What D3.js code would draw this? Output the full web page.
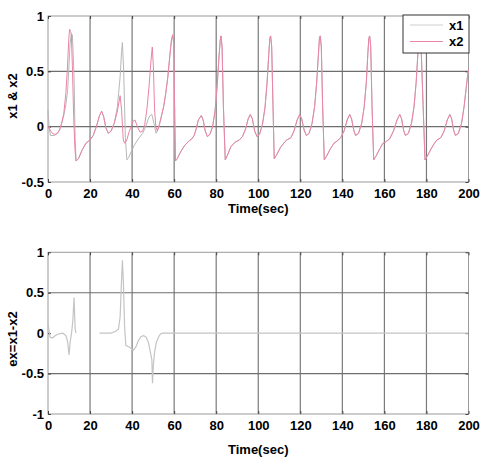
<!DOCTYPE html>
<html>
<head>
<meta charset="utf-8">
<script src="https://cdn.jsdelivr.net/npm/d3@7"></script>
<style>
  body { margin: 0; background: #fff; }
  text { font-family: Arial, "Liberation Sans", sans-serif; font-weight: bold; font-size: 13px; fill: #000; }
</style>
</head>
<body>
<div id="chart-container"></div>
<script>
// Chart size
const svgWidth = 487;
const svgHeight = 465;

// Tick labels
const xTicks = [0, 20, 40, 60, 80, 100, 120, 140, 160, 180, 200];
const topYTicks = [-0.5, 0, 0.5, 1];
const bottomYTicks = [-1, -0.5, 0, 0.5, 1];
const seriesNames = ['x1', 'x2'];

// x2: [time, value]
const x2Data = [
  [0, 0.0], [1, -0.03], [2, -0.06], [3.3, -0.07], [4.5, -0.06], [5.5, -0.03], [6.5, 0.03], [7.5, 0.12],
  [8.5, 0.3], [9.3, 0.55], [9.9, 0.8], [10.3, 0.88], [10.7, 0.86], [11.1, 0.84], [11.6, 0.55], [12.2, 0.1],
  [12.8, -0.2], [13.3, -0.31], [14.5, -0.29], [16, -0.22], [18, -0.15], [20, -0.12], [21.5, -0.08], [23, 0.0],
  [24.5, 0.1], [25.5, 0.14], [26.5, 0.09], [27.5, -0.01], [28.7, -0.06], [30, -0.04], [31.5, 0.03], [33, 0.14],
  [34.3, 0.28], [35.0, 0.15], [35.8, -0.12], [36.5, -0.15], [37.5, -0.12], [38.5, -0.05], [39.5, 0.0], [40.5, 0.05],
  [41.4, 0.06], [42.5, 0.0], [43.8, -0.05], [45, -0.04], [46, 0.02], [47, 0.15], [48, 0.35], [49, 0.6],
  [49.6, 0.72], [50.1, 0.55], [50.7, 0.15], [51.3, 0.0], [52, -0.04], [53, 0.02], [54, 0.1], [55, 0.18],
  [56, 0.3], [57, 0.45], [58, 0.65], [58.7, 0.78], [59.3, 0.83], [59.8, 0.75], [60.2, 0.2], [60.6, -0.31],
  [61.5, -0.29], [63, -0.23], [65, -0.17], [67, -0.13], [68.4, -0.11], [69.5, -0.08], [70.5, -0.02], [71.5, 0.06],
  [72.9, 0.1], [73.8, 0.06], [74.8, -0.04], [75.8, -0.09], [77, -0.07], [78.3, 0.0], [79.5, 0.15], [80.5, 0.38],
  [81.3, 0.62], [81.9, 0.78], [82.3, 0.82], [82.8, 0.72], [83.4, 0.2], [84.3, -0.3],
  [85.3, -0.26], [87, -0.18], [89, -0.14], [91, -0.12], [92.5, -0.09], [94, -0.02], [95.2, 0.07], [96.2, 0.11],
  [97.2, 0.07], [98.3, -0.04], [99.4, -0.09], [100.6, -0.07], [102, 0.02], [103.2, 0.17], [104.2, 0.4], [105, 0.65],
  [105.5, 0.8], [105.9, 0.82], [106.4, 0.72], [107, 0.2], [107.6, -0.29],
  [108.6, -0.26], [110.5, -0.19], [112.5, -0.14], [113.6, -0.12], [115.5, -0.1], [117, -0.04], [118.5, 0.06], [119.7, 0.11],
  [120.7, 0.07], [121.8, -0.03], [122.9, -0.08], [124.2, -0.06], [125.6, 0.03], [126.8, 0.18], [127.8, 0.4], [128.6, 0.65],
  [129.1, 0.8], [129.5, 0.82], [130, 0.72], [130.6, 0.2], [131.4, -0.3],
  [132.4, -0.27], [134.3, -0.2], [136, -0.15], [137.5, -0.13], [139.2, -0.1], [140.8, -0.04], [142.3, 0.06], [143.5, 0.11],
  [144.4, 0.07], [145.4, -0.03], [146.3, -0.08], [147.7, -0.06], [149.2, 0.03], [150.4, 0.18], [151.4, 0.4], [152.1, 0.65],
  [152.6, 0.8], [153, 0.82], [153.5, 0.72], [154.1, 0.2], [154.9, -0.3],
  [155.9, -0.27], [157.8, -0.2], [159.3, -0.15], [160.5, -0.14], [162.5, -0.11], [164.3, -0.04], [166, 0.06], [167.3, 0.11],
  [168.2, 0.07], [169.1, -0.03], [170, -0.08], [171.4, -0.06], [172.9, 0.03], [174.1, 0.18], [175.1, 0.4], [175.9, 0.65],
  [176.4, 0.8], [176.8, 0.83], [177.4, 0.75], [178.4, 0.2], [179.3, -0.3],
  [180.3, -0.27], [182.2, -0.2], [183.8, -0.15], [185, -0.12], [186.8, -0.1], [188.4, -0.04], [189.9, 0.06], [191.1, 0.11],
  [192, 0.07], [192.9, -0.03], [193.8, -0.08], [195.2, -0.06], [196.7, 0.03], [197.9, 0.18], [198.9, 0.35], [199.5, 0.45],
  [200, 0.52]
];

// x1 before it locks onto x2 (after t = 52 it follows x2)
const x1Early = [
  [0, 0.15], [0.6, -0.02], [1.2, -0.08], [3, -0.08], [4.5, -0.06], [5.5, -0.03], [6.5, 0.03], [7.5, 0.1],
  [8.5, 0.2], [9.3, 0.32], [9.9, 0.52], [10.5, 0.75], [11.1, 0.84], [11.6, 0.83], [12.4, 0.45], [12.9, -0.1],
  [13.4, -0.31], [14.5, -0.29], [16, -0.22], [18, -0.15], [20, -0.12], [21.5, -0.08], [23, 0.0], [24.5, 0.1],
  [25.5, 0.14], [26.5, 0.09], [27.5, -0.01], [28.7, -0.06], [30, -0.04], [31.5, 0.03], [33, 0.18], [34.3, 0.45],
  [35, 0.68], [35.4, 0.76], [36, 0.5], [36.8, -0.1], [37.5, -0.3], [38.3, -0.28], [39.5, -0.23], [41, -0.17],
  [43, -0.11], [45, -0.06], [46.5, 0.0], [47.5, 0.06], [48.5, 0.1], [49.4, 0.11], [50.4, 0.03], [51.4, -0.06],
  [52, -0.04]
];
const x1Data = x1Early.concat(x2Data.filter(d => d[0] > 52));

// error ex = x1 - x2 (null = not visible)
const exData = [
  [0, 0.12], [0.4, 0.05], [1, -0.05], [2, -0.06], [3.5, -0.03], [5, -0.01], [7, 0.0], [8.5, -0.03],
  [9.3, -0.1], [10, -0.27], [10.6, -0.1], [11.2, 0.0], [11.8, 0.15], [12.4, 0.44], [12.9, 0.05], [13.3, 0.0],
  [18, null],
  [24.5, 0.0], [30, 0.0], [32, 0.02], [33.5, 0.05], [34.3, 0.2], [34.9, 0.6], [35.4, 0.9], [35.9, 0.6],
  [36.4, 0.1], [37, -0.15], [38.5, -0.17], [39.5, -0.19], [40.6, -0.21], [41.8, -0.17], [43, -0.09], [44.3, -0.04],
  [45.5, -0.03], [46.7, -0.05], [47.8, -0.12], [48.8, -0.25], [49.4, -0.33], [49.7, -0.62], [50.1, -0.4], [50.6, -0.25],
  [51.5, -0.12], [52.5, -0.05], [53.5, -0.01], [54.5, 0.0], [200, 0.0]
];

const svg = d3.select('#chart-container')
  .append('svg')
  .attr('width', svgWidth)
  .attr('height', svgHeight);

// Common x scale
const xScale = d3.scaleLinear().domain([0, 200]).range([48, 468.5]);

// Draw one MATLAB-style axes box with grid
function drawAxes(yScale, yTicks, yLabel, yLabelPos, xLabelY, skipZeroGrid) {
  const [y0, y1] = yScale.range();
  const g = svg.append('g');

  // grid
  g.selectAll('.vgrid').data(xTicks.slice(1, -1)).enter().append('line')
    .attr('x1', d => xScale(d)).attr('x2', d => xScale(d))
    .attr('y1', y1).attr('y2', y0)
    .attr('stroke', '#7a7a7a').attr('stroke-width', 1.2);
  g.selectAll('.hgrid').data(yTicks.slice(1, -1).filter(d => !(skipZeroGrid && d === 0))).enter().append('line')
    .attr('x1', xScale(0)).attr('x2', xScale(200))
    .attr('y1', d => yScale(d)).attr('y2', d => yScale(d))
    .attr('stroke', '#6e6e6e').attr('stroke-width', 1.2);

  // box
  g.append('rect')
    .attr('x', xScale(0)).attr('y', y1)
    .attr('width', xScale(200) - xScale(0)).attr('height', y0 - y1)
    .attr('fill', 'none').attr('stroke', '#9a9a9a').attr('stroke-width', 1);

  // inward ticks
  const xb = d3.axisBottom(xScale).tickValues(xTicks).tickSize(-3).tickPadding(6);
  const gx = g.append('g').attr('transform', 'translate(0,' + y0 + ')').call(xb);
  g.append('g').attr('transform', 'translate(0,' + y1 + ')')
    .call(d3.axisTop(xScale).tickValues(xTicks).tickSize(-3).tickFormat(''));
  g.append('g').attr('transform', 'translate(' + xScale(0) + ',0)')
    .call(d3.axisLeft(yScale).tickValues(yTicks).tickSize(-3).tickPadding(4).tickFormat(d => String(d)));
  g.append('g').attr('transform', 'translate(' + xScale(200) + ',0)')
    .call(d3.axisRight(yScale).tickValues(yTicks).tickSize(-3).tickFormat(''));
  g.selectAll('.domain').remove();
  g.selectAll('.tick line').attr('stroke', '#444');
  g.selectAll('.tick text').style('font-family', 'Arial, "Liberation Sans", sans-serif')
    .style('font-weight', 'bold').style('font-size', '13px').attr('fill', '#000');
  gx.selectAll('.tick text').attr('dy', '0.75em');

  // labels
  svg.append('text')
    .attr('x', (xScale(0) + xScale(200)) / 2).attr('y', xLabelY)
    .attr('text-anchor', 'middle').text('Time(sec)');
  svg.append('text')
    .attr('transform', 'translate(17,' + yLabelPos + ') rotate(-90)')
    .attr('text-anchor', 'middle').text(yLabel);
}

// Top plot: x1 & x2
const topY = d3.scaleLinear().domain([-0.5, 1]).range([182, 16]);
drawAxes(topY, topYTicks, 'x1 & x2', 96, 213, false);

const topLine = d3.line().x(d => xScale(d[0])).y(d => topY(d[1]));
svg.append('path').datum(x1Data).attr('d', topLine)
  .attr('fill', 'none').attr('stroke', '#b8b8b8').attr('stroke-width', 1);
svg.append('path').datum(x2Data).attr('d', topLine)
  .attr('fill', 'none').attr('stroke', '#eb84a6').attr('stroke-width', 1);

// Legend
const legend = svg.append('g');
legend.append('rect').attr('x', 403).attr('y', 15).attr('width', 66).attr('height', 38)
  .attr('fill', '#fff').attr('stroke', '#333').attr('stroke-width', 1);
const legendColors = ['#cfcfcf', '#eb84a6'];
seriesNames.forEach((name, i) => {
  const ly = 25 + i * 16.5;
  legend.append('line').attr('x1', 410).attr('x2', 443).attr('y1', ly).attr('y2', ly)
    .attr('stroke', legendColors[i]).attr('stroke-width', 1);
  legend.append('text').attr('x', 449).attr('y', ly + 4.5).text(name);
});

// Bottom plot: ex = x1 - x2
const botY = d3.scaleLinear().domain([-1, 1]).range([414, 252.3]);
drawAxes(botY, bottomYTicks, 'ex=x1-x2', 339, 454, true);

const exLine = d3.line().defined(d => d[1] !== null)
  .x(d => xScale(d[0])).y(d => botY(d[1]));
svg.append('path').datum(exData).attr('d', exLine)
  .attr('fill', 'none').attr('stroke', '#c4c4c4').attr('stroke-width', 1.2);
</script>
</body>
</html>
